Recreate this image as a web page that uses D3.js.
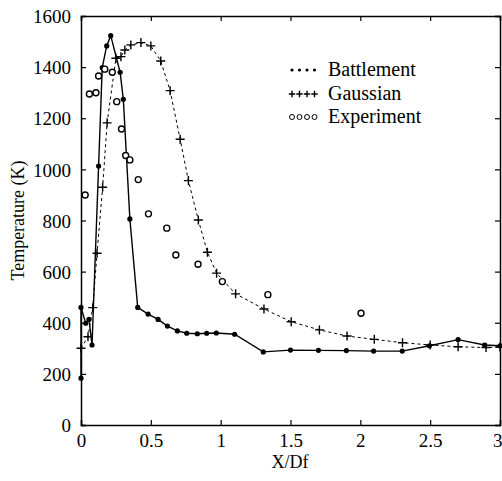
<!DOCTYPE html>
<html>
<head>
<meta charset="utf-8">
<script src="https://cdn.jsdelivr.net/npm/d3@7.9.0/dist/d3.min.js"></script>
<style>
  body { margin: 0; background: #fff; }
  svg { display: block; font-family: "Liberation Serif", "DejaVu Serif", serif; }
  text { fill: #000; }
</style>
</head>
<body>
<svg id="chart" width="502" height="481"></svg>
<script>
// data
const battlementX = [0, 0, 0.034, 0.057, 0.079, 0.126, 0.152, 0.184, 0.213, 0.28, 0.303, 0.35, 0.406, 0.48, 0.552, 0.619, 0.69, 0.757, 0.833, 0.9, 0.969, 1.1, 1.305, 1.5, 1.7, 1.9, 2.095, 2.3, 2.495, 2.7, 2.89, 3.0];
const battlementT = [183, 460, 398, 413, 313, 1013, 1398, 1483, 1523, 1380, 1274, 806, 460, 434, 413, 387, 368, 359, 357, 359, 360, 355, 286, 293, 292, 291, 289, 289, 310, 334, 313, 310];

const gaussianX = [0, 0.05, 0.084, 0.115, 0.155, 0.187, 0.25, 0.286, 0.314, 0.357, 0.429, 0.5, 0.571, 0.638, 0.71, 0.769, 0.84, 0.905, 0.971, 1.107, 1.31, 1.505, 1.707, 1.905, 2.1, 2.302, 2.5, 2.7, 2.9, 3.0];
const gaussianT = [300, 345, 459, 672, 930, 1182, 1435, 1441, 1467, 1487, 1496, 1483, 1424, 1308, 1118, 956, 802, 676, 594, 513, 454, 404, 372, 348, 335, 322, 313, 306, 303, 305];

const experimentX = [0.03, 0.06, 0.107, 0.126, 0.17, 0.224, 0.256, 0.29, 0.32, 0.35, 0.41, 0.483, 0.614, 0.679, 0.838, 1.012, 1.338, 2.005];
const experimentT = [900, 1295, 1300, 1365, 1392, 1380, 1265, 1158, 1054, 1037, 960, 826, 770, 665, 629, 561, 510, 437];

const xTicks = [0, 0.5, 1, 1.5, 2, 2.5, 3];
const xTickLabels = ['0', '0.5', '1', '1.5', '2', '2.5', '3'];
const yTicks = [0, 200, 400, 600, 800, 1000, 1200, 1400, 1600];

const legendLabels = ['Battlement', 'Gaussian', 'Experiment'];

const svg = d3.select('#chart');
const margin = { left: 81, right: 2, top: 16, bottom: 56 };
const W = 502, H = 481;

const x = d3.scaleLinear().domain([0, 3]).range([margin.left, W - margin.right]);
const y = d3.scaleLinear().domain([0, 1600]).range([H - margin.bottom, margin.top]);

const zip = (xs, ts) => xs.map((v, i) => [v, ts[i]]);
const battlement = zip(battlementX, battlementT);
const gaussian = zip(gaussianX, gaussianT);
const experiment = zip(experimentX, experimentT);

// axes: ticks point inward, frame all round
const axBottom = svg.append('g')
  .attr('transform', `translate(0,${y(0)})`)
  .call(d3.axisBottom(x).tickValues(xTicks).tickFormat((d, i) => xTickLabels[i]).tickSize(-5));
const axTop = svg.append('g')
  .attr('transform', `translate(0,${y(1600)})`)
  .call(d3.axisTop(x).tickValues(xTicks).tickFormat('').tickSize(-5));
const axLeft = svg.append('g')
  .attr('transform', `translate(${x(0)},0)`)
  .call(d3.axisLeft(y).tickValues(yTicks).tickFormat(d3.format('d')).tickSize(-5).tickPadding(10));
const axRight = svg.append('g')
  .attr('transform', `translate(${x(3)},0)`)
  .call(d3.axisRight(y).tickValues(yTicks).tickFormat('').tickSize(-5));

[axBottom, axTop, axLeft, axRight].forEach(g => {
  g.select('.domain').attr('stroke', '#000').attr('stroke-width', 1.5);
  g.selectAll('.tick line').attr('stroke', '#000').attr('stroke-width', 1.2);
  g.selectAll('.tick text')
    .attr('fill', '#000')
    .style('font-family', '"Liberation Serif", serif')
    .style('font-size', '19px');
});
axBottom.selectAll('.tick text').attr('y', 22).attr('dy', null);
axBottom.selectAll('.tick text')
  .filter(d => d === 3)
  .attr('text-anchor', 'end')
  .attr('x', 2);
axLeft.selectAll('.tick text').attr('dy', '0.35em');

// axis titles
svg.append('text')
  .attr('x', 290).attr('y', 468)
  .attr('text-anchor', 'middle')
  .style('font-size', '18px')
  .text('X/Df');
svg.append('text')
  .attr('transform', `translate(24,${(y(0) + y(1600)) / 2}) rotate(-90)`)
  .attr('text-anchor', 'middle')
  .style('font-size', '18px')
  .text('Temperature (K)');

const line = d3.line().x(d => x(d[0])).y(d => y(d[1]));

function drawPlus(g, cx, cy, s) {
  g.append('path')
    .attr('d', `M${cx - s},${cy}H${cx + s}M${cx},${cy - s}V${cy + s}`)
    .attr('stroke', '#000')
    .attr('stroke-width', 1.4);
}

// Gaussian: dashed with plus markers
svg.append('path')
  .datum(gaussian)
  .attr('d', line)
  .attr('fill', 'none')
  .attr('stroke', '#000')
  .attr('stroke-width', 1)
  .attr('stroke-dasharray', '3,3');
const gp = svg.append('g');
gaussian.forEach(d => drawPlus(gp, x(d[0]), y(d[1]), 4.5));

// Battlement: solid with dots
svg.append('path')
  .datum(battlement)
  .attr('d', line)
  .attr('fill', 'none')
  .attr('stroke', '#000')
  .attr('stroke-width', 1.4);
svg.append('g').selectAll('circle')
  .data(battlement)
  .join('circle')
  .attr('cx', d => x(d[0]))
  .attr('cy', d => y(d[1]))
  .attr('r', 2.6)
  .attr('fill', '#000');

// Experiment: open circles
svg.append('g').selectAll('circle')
  .data(experiment)
  .join('circle')
  .attr('cx', d => x(d[0]))
  .attr('cy', d => y(d[1]))
  .attr('r', 3)
  .attr('fill', '#fff')
  .attr('stroke', '#000')
  .attr('stroke-width', 1.4);

// legend
const legend = svg.append('g');
const legendY = [70, 94, 117];
legendLabels.forEach((label, i) => {
  const ly = legendY[i];
  for (let k = 0; k < 4; k++) {
    const cx = 292 + k * 7.5;
    if (i === 0) {
      legend.append('circle').attr('cx', cx).attr('cy', ly).attr('r', 1.6).attr('fill', '#000');
    } else if (i === 1) {
      drawPlus(legend, cx, ly, 3.2);
    } else {
      legend.append('circle').attr('cx', cx).attr('cy', ly).attr('r', 2.5)
        .attr('fill', 'none').attr('stroke', '#000').attr('stroke-width', 1);
    }
  }
  legend.append('text')
    .attr('x', 328).attr('y', ly + 6)
    .style('font-size', '20px')
    .text(label);
});
</script>
</body>
</html>
